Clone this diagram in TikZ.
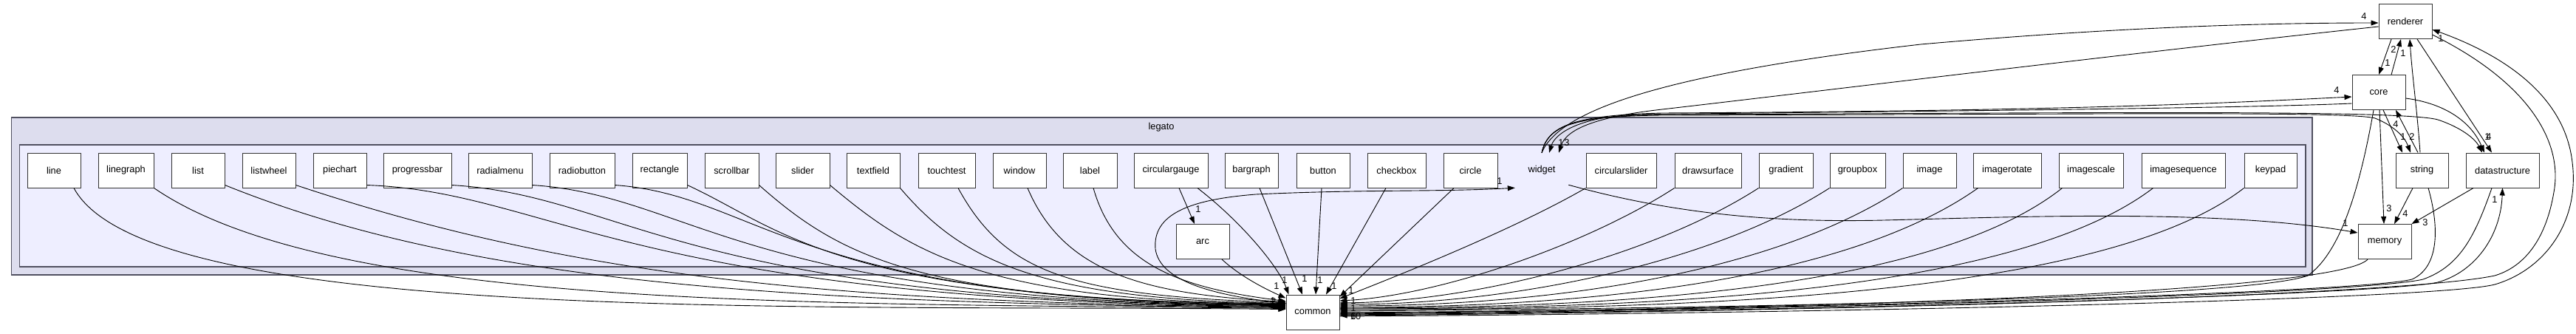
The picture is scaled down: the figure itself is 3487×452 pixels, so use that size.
\documentclass[tikz,border=0pt]{standalone}
\usepackage{fontspec}
\setmainfont{Liberation Sans}
\usetikzlibrary{arrows.meta}
\definecolor{clOuter}{HTML}{DDDDEE}
\definecolor{clInner}{HTML}{EEEEFF}
\definecolor{clBorder}{HTML}{505060}
\newcommand\dgfont{\fontsize{12.8pt}{15pt}\selectfont}
\begin{document}
\begin{tikzpicture}[x=1pt,y=-1pt,
  dirbox/.style={draw=black!80, fill=white, line width=1pt, minimum height=47pt, inner sep=0pt, font=\dgfont},
  plain/.style={minimum width=72pt, minimum height=47pt, inner sep=0pt, font=\dgfont},
  lab/.style={inner sep=0pt, font=\dgfont},
  dep/.style={draw=black, line width=0.9pt, -{Triangle[length=10pt,width=7pt]}},
  cluster/.style={draw=clBorder, line width=1.5pt}]
\useasboundingbox (0,0) rectangle (3487,452);
\fill[white] (0,0) rectangle (3487,452);
% clusters
\draw[cluster, fill=clOuter] (15.5,159) rectangle (3130,372);
\draw[cluster, fill=clInner] (26.5,196) rectangle (3121,361);
\node[lab] (legatolab) at (1572,172) {legato};
% top row
\node[dirbox, minimum width=72pt] (line) at (73,230.5) {line};
\node[dirbox, minimum width=75pt] (linegraph) at (170.5,230.5) {linegraph};
\node[dirbox, minimum width=72pt] (list) at (268,230.5) {list};
\node[dirbox, minimum width=72pt] (listwheel) at (364,230.5) {listwheel};
\node[dirbox, minimum width=72pt] (piechart) at (460,230.5) {piechart};
\node[dirbox, minimum width=92pt] (progressbar) at (565,230.5) {progressbar};
\node[dirbox, minimum width=86pt] (radialmenu) at (677,230.5) {radialmenu};
\node[dirbox, minimum width=88pt] (radiobutton) at (788,230.5) {radiobutton};
\node[dirbox, minimum width=74pt] (rectangle) at (893,230.5) {rectangle};
\node[dirbox, minimum width=73pt] (scrollbar) at (990.5,230.5) {scrollbar};
\node[dirbox, minimum width=73pt] (slider) at (1086.5,230.5) {slider};
\node[dirbox, minimum width=72pt] (textfield) at (1182,230.5) {textfield};
\node[dirbox, minimum width=77pt] (touchtest) at (1281.5,230.5) {touchtest};
\node[dirbox, minimum width=72pt] (window) at (1380,230.5) {window};
\node[dirbox, minimum width=73pt] (label) at (1475.5,230.5) {label};
\node[dirbox, minimum width=100pt] (circulargauge) at (1585,230.5) {circulargauge};
\node[dirbox, minimum width=72pt] (bargraph) at (1694,230.5) {bargraph};
\node[dirbox, minimum width=72pt] (button) at (1791,230.5) {button};
\node[dirbox, minimum width=79pt] (checkbox) at (1890.5,230.5) {checkbox};
\node[dirbox, minimum width=73pt] (circle) at (1990.5,230.5) {circle};
\node[plain] (widget) at (2087,230.5) {widget};
\node[dirbox, minimum width=95pt] (circularslider) at (2194.5,230.5) {circularslider};
\node[dirbox, minimum width=90pt] (drawsurface) at (2312,230.5) {drawsurface};
\node[dirbox, minimum width=73pt] (gradient) at (2417.5,230.5) {gradient};
\node[dirbox, minimum width=75pt] (groupbox) at (2514.5,230.5) {groupbox};
\node[dirbox, minimum width=72pt] (image) at (2612,230.5) {image};
\node[dirbox, minimum width=92pt] (imagerotate) at (2717,230.5) {imagerotate};
\node[dirbox, minimum width=87pt] (imagescale) at (2830.5,230.5) {imagescale};
\node[dirbox, minimum width=113pt] (imagesequence) at (2955.5,230.5) {imagesequence};
\node[dirbox, minimum width=71pt] (keypad) at (3073.5,230.5) {keypad};
\node[dirbox, minimum width=72pt] (arc) at (1628,327) {arc};
% outside nodes
\node[dirbox, minimum width=72pt] (common) at (1777,422.5) {common};
\node[dirbox, minimum width=72pt] (renderer) at (3256,29) {renderer};
\node[dirbox, minimum width=72pt] (core) at (3220,125) {core};
\node[dirbox, minimum width=71pt] (string) at (3278.5,230.5) {string};
\node[dirbox, minimum width=99pt] (datastructure) at (3387.5,230.5) {datastructure};
\node[dirbox, minimum width=72pt] (memory) at (3228,327) {memory};

% ---- left group -> common
\draw[dep] ([xshift=27]line.south) .. controls (200,440) and (1100,412) .. ([yshift=4]common.west);
\draw[dep] (linegraph.south east) .. controls (450,420) and (1100,410) .. ([yshift=5]common.west);
\draw[dep] ([yshift=4]list.south east) .. controls (650,390) and (1100,410) .. ([yshift=6]common.west);
\draw[dep] ([yshift=4]listwheel.south east) .. controls (760,370) and (1100,410) .. ([yshift=7]common.west);
\draw[dep] ([yshift=4]piechart.south east) .. controls (750,260) and (850,410) .. ([yshift=8]common.west);
\draw[dep] ([yshift=4]progressbar.south east) .. controls (850,265) and (920,410) .. ([yshift=9]common.west);
\draw[dep] ([yshift=4]radialmenu.south east) .. controls (940,265) and (1000,410) .. ([yshift=9.5]common.west);
\draw[dep] ([yshift=4]radiobutton.south east) .. controls (1030,265) and (1070,410) .. ([yshift=10]common.west);
\draw[dep] ([yshift=4]rectangle.south east) .. controls (1060,310) and (1130,405) .. ([yshift=10.5]common.west);
\draw[dep] ([yshift=4]scrollbar.south east) .. controls (1140,350) and (1250,408) .. ([yshift=11]common.west);
\draw[dep] ([yshift=4]slider.south east) .. controls (1230,340) and (1330,408) .. ([yshift=11.5]common.west);
\draw[dep] (textfield.south east) .. controls (1300,350) and (1400,405) .. ([yshift=12]common.west);
\draw[dep] ([xshift=15.5]touchtest.south) .. controls (1360,370) and (1450,400) .. ([yshift=13]common.west);
\draw[dep] ([xshift=11]window.south) .. controls (1440,370) and (1550,398) .. ([yshift=14]common.west);
\draw[dep] ([xshift=4.5]label.south) .. controls (1510,360) and (1600,390) .. ([yshift=15]common.west);
\draw[dep] ([xshift=36]circulargauge.south) .. controls (1680,300) and (1730,360) .. ([xshift=4]common.north west);
\draw[dep] ([xshift=11]circulargauge.south) -- ([xshift=-11]arc.north);
\draw[dep] ([xshift=26]arc.south) .. controls (1680,375) and (1715,392) .. ([yshift=-5]common.north west);
\draw[dep] ([xshift=11]bargraph.south) -- ([xshift=-14]common.north);
\draw[dep] ([xshift=-2]button.south) -- ([xshift=4]common.north);
\draw[dep] ([xshift=-14.5]checkbox.south) -- ([xshift=18]common.north);
\draw[dep] ([xshift=-22.5]circle.south) -- ([yshift=-3]common.north east);
% ---- right group -> common
\draw[dep] (circularslider.south west) .. controls (2050,310) and (1900,370) .. ([yshift=18.5]common.east);
\draw[dep] (drawsurface.south west) .. controls (2150,330) and (1950,400) .. ([yshift=15.5]common.east);
\draw[dep] (gradient.south west) .. controls (2240,345) and (2000,408) .. ([yshift=12.5]common.east);
\draw[dep] (groupbox.south west) .. controls (2320,355) and (2050,412) .. ([yshift=10.5]common.east);
\draw[dep] (image.south west) .. controls (2400,370) and (2100,414) .. ([yshift=8.5]common.east);
\draw[dep] ([xshift=7]imagerotate.south west) .. controls (2500,380) and (2150,416) .. ([yshift=6.5]common.east);
\draw[dep] ([xshift=5]imagescale.south west) .. controls (2620,390) and (2200,417) .. ([yshift=5.5]common.east);
\draw[dep] ([xshift=16]imagesequence.south west) .. controls (2730,395) and (2250,418) .. ([yshift=4.5]common.east);
\draw[dep] (keypad.south west) .. controls (2850,400) and (2300,419) .. ([yshift=3.5]common.east);
\draw[dep] ([xshift=-7]core.south) .. controls (3195,250) and (3170,340) .. (3124,373) .. controls (3050,400) and (2500,416) .. ([yshift=1.5]common.east);
\draw[dep] ([xshift=-23]memory.south) .. controls (3170,390) and (2600,418) .. ([yshift=-0.5]common.east);
\draw[dep] ([xshift=8.5]string.south) .. controls (3300,300) and (3305,360) .. (3265,378) .. controls (3200,395) and (2500,418) .. ([yshift=-1.5]common.east);
\draw[dep] ([xshift=-14.5]datastructure.south) .. controls (3350,320) and (3330,360) .. (3280,378) .. controls (3200,397) and (2500,419) .. ([yshift=-2.5]common.east);
\draw[dep] ([yshift=-18]renderer.east) .. controls (3420,110) and (3470,190) .. (3457,260) .. controls (3447,320) and (3420,360) .. (3377,373) .. controls (3250,400) and (2500,421) .. ([yshift=-4.5]common.east);
% ---- common -> others
\draw[dep] ([yshift=-3.5]common.east) .. controls (2500,421) and (3230,398) .. (3300,382) .. controls (3350,368) and (3385,320) .. (datastructure.south);
\draw[dep] ([yshift=-5.5]common.east) .. controls (2500,424) and (3300,405) .. (3377,385) .. controls (3445,365) and (3492,300) .. (3482,220) .. controls (3472,130) and (3390,75) .. ([yshift=-11]renderer.east);
\draw[dep] ([yshift=12]common.west) .. controls (1640,400) and (1570,380) .. (1564,337) .. controls (1560,290) and (1610,270) .. (1700,263) .. controls (1850,256) and (1950,260) .. (widget.south west);
% ---- widget edges
\draw[dep] (widget.north) .. controls (2110,150) and (2250,100) .. (2600,60) .. controls (2850,38) and (3050,31) .. ([yshift=-2]renderer.west);
\draw[dep] ([yshift=-7]renderer.west) .. controls (2900,70) and (2450,125) .. (2250,148) .. controls (2160,158) and (2120,175) .. ([xshift=23]widget.north);
\draw[dep] (widget.north) .. controls (2095,170) and (2130,156) .. (2250,153) .. controls (2800,150) and (3000,140) .. ([yshift=-6]core.west);
\draw[dep] ([yshift=-15]core.west) .. controls (3000,148) and (2400,152) .. (2220,155) .. controls (2140,157) and (2105,180) .. ([xshift=10]widget.north);
\draw[dep] (widget.north) .. controls (2095,170) and (2130,157) .. (2250,155) .. controls (2800,153) and (3250,148) .. (3300,162) .. controls (3330,172) and (3350,187) .. ([xshift=-27.5]datastructure.north);
\draw[dep] (widget.north) .. controls (2095,170) and (2130,157) .. (2250,156) .. controls (2800,155) and (3180,150) .. (3215,160) .. controls (3240,170) and (3255,185) .. ([xshift=-15.5]string.north);
\draw[dep] ([yshift=4]widget.south east) .. controls (2250,285) and (2380,302) .. (2550,298) .. controls (2720,294) and (3000,282) .. ([yshift=12]memory.west);
% ---- among right nodes
\draw[dep] ([xshift=-19]renderer.south) -- (core.north);
\draw[dep] ([xshift=17]core.north) -- ([xshift=-6]renderer.south);
\draw[dep] ([xshift=-2.5]string.north) .. controls (3272,150) and (3265,100) .. ([xshift=6]renderer.south);
\draw[dep] ([xshift=16]renderer.south) -- ([xshift=-14.5]datastructure.north);
\draw[dep] ([yshift=-8]core.east) .. controls (3310,140) and (3345,165) .. ([xshift=-24.5]datastructure.north);
\draw[dep] ([xshift=6]core.south) -- ([xshift=-26.5]string.north);
\draw[dep] ([xshift=-5.5]string.north) -- ([xshift=23]core.south);
\draw[dep] ([xshift=1]core.south) -- ([xshift=-1]memory.north);
\draw[dep] ([xshift=-12.5]string.south) -- ([xshift=13]memory.north);
\draw[dep] ([xshift=-39.5]datastructure.south) -- (memory.north east);
% ---- labels
\node[lab] (l1) at (1622,283) {1};
\node[lab] (l2) at (2030,245) {1};
\node[lab] (l3) at (2113,193) {1};
\node[lab] (l4) at (2121,193) {3};
\node[lab] (l5) at (3200,22) {4};
\node[lab] (l6) at (3163,122) {4};
\node[lab] (l7) at (3240,67) {2};
\node[lab] (l8) at (3232,85) {1};
\node[lab] (l9) at (3253,72) {1};
\node[lab] (l10) at (3304,52) {1};
\node[lab] (l11) at (3367,185) {1};
\node[lab] (l12) at (3369,185) {4};
\node[lab] (l13) at (3253,185) {1};
\node[lab] (l14) at (3265,185) {2};
\node[lab] (l15) at (3243,168) {4};
\node[lab] (l16) at (3234,282) {3};
\node[lab] (l17) at (3256,289) {4};
\node[lab] (l18) at (3283,301) {3};
\node[lab] (l19) at (3175,302) {1};
\node[lab] (l20) at (3377,270) {1};
\node[lab] (c1) at (1728,387) {1};
\node[lab] (c2) at (1739,379) {1};
\node[lab] (c3) at (1766,377) {1};
\node[lab] (c4) at (1787,379) {1};
\node[lab] (c5) at (1806,387) {1};
\node[lab] (c6) at (1829,393) {1};
\node[lab] (c7) at (1832,407) {1};
\node[lab] (c8) at (1832,417) {1};
\node[lab] (c9) at (1832,428) {6};
\node[lab] (c10) at (1835,428) {10};
\node[lab] (c11) at (1723,407) {1};
\node[lab] (c12) at (1724,408) {2};
\end{tikzpicture}
\end{document}
